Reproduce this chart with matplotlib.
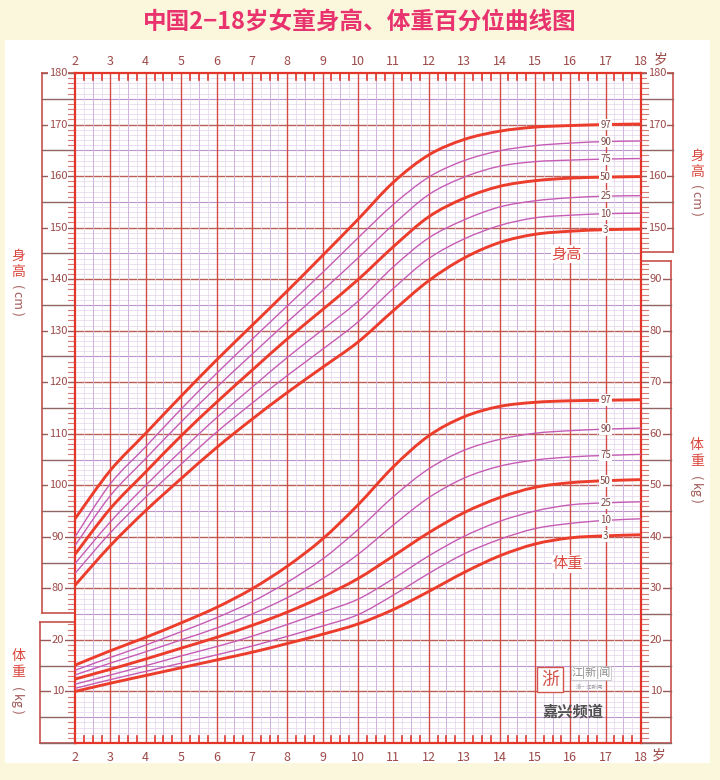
import matplotlib.pyplot as plt
import numpy as np
from matplotlib.path import Path
from matplotlib.patches import PathPatch, Rectangle

plt.rcParams['font.family'] = ['Noto Sans CJK SC', 'DejaVu Sans']

# ages 2..18
ages = list(range(2, 19))
pcts = ['3', '10', '25', '50', '75', '90', '97']

# height (cm)
h3 = [80.6, 88.3, 95.1, 101.3, 107.3, 112.8, 118.0, 122.9, 127.8, 133.9, 139.7, 144.1, 147.1, 148.7, 149.3, 149.6, 149.7]
h10 = [82.9, 90.8, 97.7, 104.1, 110.3, 115.9, 121.3, 126.4, 131.7, 138.2, 144.0, 147.8, 150.4, 151.9, 152.4, 152.7, 152.8]
h25 = [84.8, 92.9, 100.0, 106.7, 113.1, 119.0, 124.8, 130.2, 135.7, 142.4, 148.0, 151.5, 154.0, 155.2, 155.8, 156.1, 156.2]
h50 = [86.6, 95.5, 102.6, 109.6, 116.1, 122.3, 128.4, 134.1, 139.9, 146.3, 152.1, 155.7, 158.0, 159.1, 159.6, 159.8, 159.9]
h75 = [88.3, 98.0, 105.2, 112.3, 119.0, 125.4, 131.7, 137.8, 144.1, 150.6, 156.4, 159.8, 161.9, 162.8, 163.1, 163.3, 163.4]
h90 = [90.0, 100.3, 107.5, 114.8, 121.7, 128.3, 134.8, 141.3, 148.0, 154.5, 159.8, 163.0, 164.9, 165.9, 166.4, 166.7, 166.8]
h97 = [93.5, 102.9, 110.1, 117.3, 124.3, 131.0, 137.7, 144.6, 151.6, 158.8, 164.1, 167.1, 168.7, 169.5, 169.8, 170.0, 170.1]

# weight (kg)
w3 = [10.0, 11.6, 13.1, 14.6, 16.1, 17.6, 19.3, 21.1, 23.1, 25.9, 29.4, 33.1, 36.3, 38.6, 39.8, 40.2, 40.4]
w10 = [10.6, 12.3, 13.9, 15.5, 17.1, 18.8, 20.7, 22.7, 24.9, 28.7, 32.9, 36.7, 39.5, 41.6, 42.6, 43.2, 43.5]
w25 = [11.4, 13.2, 15.0, 16.9, 18.7, 20.7, 23.0, 25.4, 27.9, 31.9, 36.3, 40.1, 43.0, 45.0, 46.2, 46.6, 46.8]
w50 = [12.4, 14.3, 16.3, 18.4, 20.5, 22.8, 25.4, 28.4, 31.9, 36.3, 40.8, 44.7, 47.6, 49.6, 50.5, 50.9, 51.1]
w75 = [13.2, 15.5, 17.7, 20.0, 22.3, 25.0, 28.2, 31.9, 36.6, 42.3, 47.6, 51.4, 53.7, 54.9, 55.5, 55.8, 56.0]
w90 = [14.1, 16.6, 19.0, 21.6, 24.3, 27.4, 31.2, 35.7, 41.4, 47.8, 53.2, 56.8, 58.9, 60.1, 60.6, 60.9, 61.1]
w97 = [15.1, 17.9, 20.5, 23.3, 26.3, 29.9, 34.3, 39.6, 46.2, 53.6, 59.6, 63.3, 65.3, 66.1, 66.4, 66.5, 66.6]

heights = [h3, h10, h25, h50, h75, h90, h97]
weights = [w3, w10, w25, w50, w75, w90, w97]

RED = '#ec3d2c'
PURPLE = '#c65cb4'
AXRED = '#c8504c'
TXT = '#9c4a48'
W_OFF = 50  # weight w is drawn at w + 50 on the cm scale

W, H = 720, 780
L, R, T, B = 75, 641, 73, 743

fig = plt.figure(figsize=(W / 100, H / 100), dpi=100)
fig.patch.set_facecolor('#fbf7dc')


def px2y(p):
    return 180 - (p - T) * 130.0 / (B - T)


def px2x(p):
    return 2 + (p - L) * 16.0 / (R - L)


ov = fig.add_axes([0, 0, 1, 1])
ov.set_zorder(0)
ov.set_xlim(0, W)
ov.set_ylim(px2y(H), px2y(0))
ov.axis('off')
ov.add_patch(Rectangle((5, px2y(763)), 705, px2y(40) - px2y(763), facecolor='white',
                       edgecolor='none', zorder=0))

ax = fig.add_axes([L / W, 1 - B / H, (R - L) / W, (B - T) / H])
ax.set_zorder(1)
ax.set_xlim(2, 18)
ax.set_ylim(50, 180)
ax.set_xticks([])
ax.set_yticks([])
ax.patch.set_facecolor('white')
for s in ax.spines.values():
    s.set_color('#e2362a')
    s.set_linewidth(1.6)

# grid
for v in range(51, 180):
    if v % 10 == 0:
        ax.axhline(v, color='#bb5e5a', lw=1.0, zorder=1)
    elif v % 5 == 0:
        ax.axhline(v, color='#bd93cb', lw=0.8, zorder=1)
    else:
        ax.axhline(v, color='#e2d3ea', lw=0.5, zorder=1)
for q in np.arange(2.25, 18, 0.25):
    if q % 1 == 0:
        ax.axvline(q, color='#d24b45', lw=1.0, zorder=1.5)
    elif q % 0.5 == 0:
        ax.axvline(q, color='#cfb2dc', lw=0.7, zorder=1)
    else:
        ax.axvline(q, color='#e2d3ea', lw=0.5, zorder=1)
for q in np.arange(2.25, 18, 0.25):
    if q % 1 != 0:
        ax.plot([q, q], [180, 178.6], color='#e2362a', lw=1.2, zorder=2)
        ax.plot([q, q], [50, 51.4], color='#e2362a', lw=1.2, zorder=2)


def smooth_path(xs, ys):
    pts = np.column_stack([xs, ys])
    n = len(pts)
    verts = [pts[0]]
    codes = [Path.MOVETO]
    for i in range(n - 1):
        p0 = pts[max(i - 1, 0)]
        p1 = pts[i]
        p2 = pts[i + 1]
        p3 = pts[min(i + 2, n - 1)]
        verts += [p1 + (p2 - p0) / 6.0, p2 - (p3 - p1) / 6.0, p2]
        codes += [Path.CURVE4] * 3
    return Path(verts, codes)


for series, off in ((heights, 0), (weights, W_OFF)):
    for p, vals in zip(pcts, series):
        thick = p in ('3', '50', '97')
        ys = np.array(vals) + off
        ax.add_patch(PathPatch(smooth_path(np.array(ages, float), ys), fill=False,
                               edgecolor=RED if thick else PURPLE,
                               lw=2.1 if thick else 1.0, zorder=3, capstyle='butt'))
        ax.text(17, ys[15], p, fontsize=7, color='#7d4846', ha='center', va='center', zorder=5,
                bbox=dict(facecolor='white', edgecolor='none', pad=0.6))

ax.text(px2x(567), px2y(254), '身高', fontsize=11, color='#d9473f', ha='center', va='center',
        zorder=5, bbox=dict(facecolor='white', edgecolor='none', pad=0.5))
ax.text(px2x(568), px2y(564), '体重', fontsize=11, color='#d9473f', ha='center', va='center',
        zorder=5, bbox=dict(facecolor='white', edgecolor='none', pad=0.5))

# age labels top and bottom
for a in ages:
    xp = L + (a - 2) * (R - L) / 16.0
    ov.text(xp, px2y(61), str(a), fontsize=9, color=TXT, ha='center', va='center')
    ov.text(xp, px2y(757), str(a), fontsize=9, color=TXT, ha='center', va='center')
ov.text(661, px2y(60), '岁', fontsize=10, color=TXT, ha='center', va='center')
ov.text(659, px2y(756), '岁', fontsize=10, color=TXT, ha='center', va='center')


def side_scale(x_out, x_in, lo, hi, labels, off, lab_x):
    # bracket, 5-unit lines, labels and minor ticks in the margin
    step = 1 if x_in > x_out else -1
    ov.plot([x_out, x_out], [lo, hi], color=AXRED, lw=1.2)
    ov.plot([x_out, x_in], [lo, lo], color=AXRED, lw=1.2)
    ov.plot([x_out, x_in], [hi, hi], color=AXRED, lw=1.2)
    for v in range(int(np.ceil(lo)), int(np.floor(hi)) + 1):
        if v % 10 == 0 and (v - off) in labels:
            ov.plot([x_out, x_in], [v, v], color='#9a5a58', lw=1.0)
            ov.text(lab_x, v, str(v - off), fontsize=8, color=TXT, ha='center', va='center',
                    bbox=dict(facecolor='white', edgecolor='none', pad=0.4))
        elif v % 5 == 0:
            ov.plot([x_out, x_in], [v, v], color='#8f6462', lw=1.0)
        else:
            ov.plot([x_in - 7 * step, x_in], [v, v], color='#d77a74', lw=0.8)


side_scale(42, L, 75.2, 180, list(range(80, 181, 10)), 0, 58)
side_scale(40, L, 50, 73.5, [10, 20], W_OFF, 58)
side_scale(673, R, 145.3, 180, [150, 160, 170, 180], 0, 657)
side_scale(671, R, 50, 143.5, list(range(10, 91, 10)), W_OFF, 656)


def axis_title(x, y0, chars, unit):
    for i, c in enumerate(chars):
        ov.text(x, px2y(y0 + i * 16), c, fontsize=10, color='#d9473f', ha='center', va='center')
    ov.text(x, px2y(y0 + 44), '( ' + unit + ' )', fontsize=9, color='#a05a58', ha='center',
            va='center', rotation=-90)


axis_title(18, 256, '身高', 'cm')
axis_title(18, 656, '体重', 'kg')
axis_title(697, 156, '身高', 'cm')
axis_title(697, 445, '体重', 'kg')

# watermark
ax.add_patch(Rectangle((px2x(537), px2y(692)), px2x(563) - px2x(537), px2y(667) - px2y(692),
                       facecolor='white', edgecolor='#d2554e', lw=1.0, zorder=6))
ax.text(px2x(550), px2y(680), '浙', fontsize=13, color='#d2554e', ha='center', va='center', zorder=7)
ax.text(px2x(591), px2y(673), '江|新|闻', fontsize=8, color='#8a8a8a', ha='center', va='center',
        zorder=7, bbox=dict(facecolor='white', edgecolor='#b8b8b8', lw=0.5, pad=0.5))
ax.text(px2x(590), px2y(687), '浙·江新闻', fontsize=4, color='#a0a0a0', ha='center', va='center',
        zorder=7)
ax.text(px2x(573), px2y(712), '嘉兴频道', fontsize=11, color='#505050', ha='center', va='center',
        zorder=7, fontweight='bold')

fig.text(0.5, 1 - 23 / H, '中国2−18岁女童身高、体重百分位曲线图', fontsize=17, color='#e8336e',
         ha='center', va='center', fontweight='bold')

fig.savefig('out.png', dpi=100, facecolor=fig.get_facecolor())
